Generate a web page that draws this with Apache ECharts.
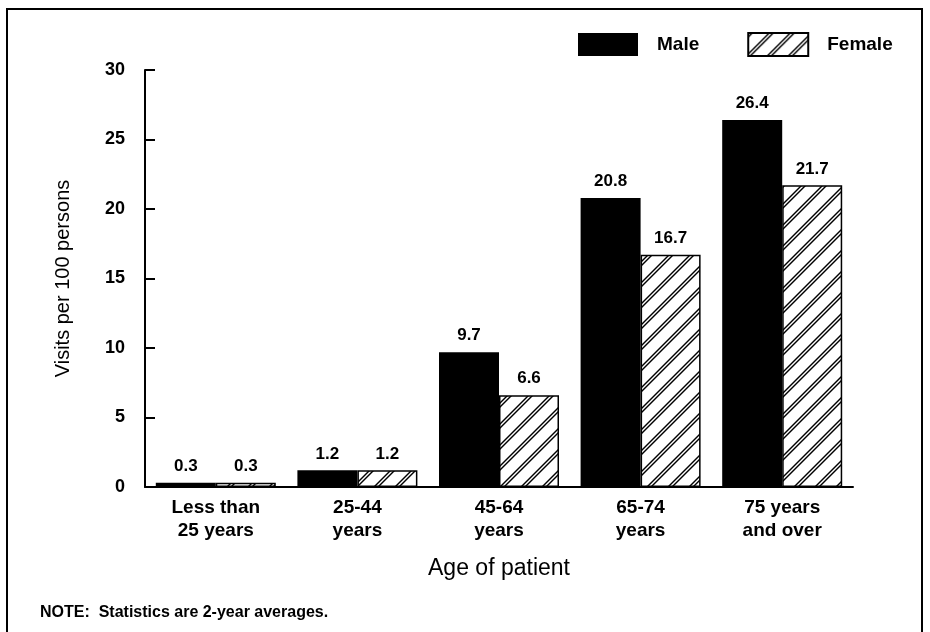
<!DOCTYPE html>
<html>
<head>
<meta charset="utf-8">
<script src="https://cdn.jsdelivr.net/npm/echarts@6/dist/echarts.min.js"></script>
<style>
  html, body { margin: 0; padding: 0; background: #fff; }
  #main { width: 930px; height: 632px; }
</style>
</head>
<body>
<div id="main"></div>
<script>
// data
var ageGroups = ['Less than\n25 years', '25-44\nyears', '45-64\nyears', '65-74\nyears', '75 years\nand over'];
var maleVisits = [0.3, 1.2, 9.7, 20.8, 26.4];
var femaleVisits = [0.3, 1.2, 6.6, 16.7, 21.7];
var yTicks = [0, 5, 10, 15, 20, 25, 30];

var FONT = '"Liberation Sans", Arial, sans-serif';

// double diagonal hatch, like the old print
function makeHatch() {
  var size = 21;
  var c = document.createElement('canvas');
  c.width = size; c.height = size;
  var ctx = c.getContext('2d');
  ctx.fillStyle = '#fff';
  ctx.fillRect(0, 0, size, size);
  ctx.strokeStyle = '#000';
  ctx.lineWidth = 1.4;
  [0, 4, 21, 25, 42, 46].forEach(function (k) {
    ctx.beginPath();
    ctx.moveTo(k - 30, 30);
    ctx.lineTo(k + 30, -30);
    ctx.stroke();
  });
  return c;
}

var chart = echarts.init(document.getElementById('main'));

var valueLabel = {
  show: true,
  position: 'top',
  distance: 8,
  color: '#000',
  fontFamily: FONT,
  fontWeight: 'bold',
  fontSize: 17,
  formatter: function (p) { return p.value.toFixed(1); }
};

chart.setOption({
  animation: false,
  backgroundColor: '#fff',
  textStyle: { fontFamily: FONT, color: '#000' },
  grid: { left: 145, right: 77, top: 70, bottom: 145 },
  legend: {
    data: ['Male', 'Female'],
    icon: 'rect',
    left: 573,
    top: 27,
    itemWidth: 60,
    itemHeight: 23,
    itemGap: 48,
    textStyle: { color: '#000', fontFamily: FONT, fontWeight: 'bold', fontSize: 19, padding: [0, 0, 0, 14] }
  },
  xAxis: {
    type: 'category',
    data: ageGroups,
    name: 'Age of patient',
    nameLocation: 'middle',
    nameGap: 70,
    nameTextStyle: { color: '#000', fontFamily: FONT, fontSize: 23 },
    axisLine: { lineStyle: { color: '#000', width: 2 } },
    axisTick: { show: false },
    axisLabel: {
      color: '#000', fontFamily: FONT, fontWeight: 'bold', fontSize: 19,
      lineHeight: 23, margin: 9, interval: 0
    }
  },
  yAxis: {
    type: 'value',
    min: yTicks[0],
    max: yTicks[yTicks.length - 1],
    interval: 5,
    name: 'Visits per 100 persons',
    nameLocation: 'middle',
    nameRotate: 90,
    nameGap: 72,
    nameTextStyle: { color: '#000', fontFamily: FONT, fontSize: 20 },
    axisLine: { show: true, lineStyle: { color: '#000', width: 2 } },
    axisTick: { show: true, inside: true, length: 10, lineStyle: { color: '#000', width: 2 } },
    splitLine: { show: false },
    axisLabel: { color: '#000', fontFamily: FONT, fontWeight: 'bold', fontSize: 18, margin: 20 }
  },
  series: [
    {
      name: 'Male',
      type: 'bar',
      data: maleVisits,
      barWidth: 60,
      barGap: '0%',
      itemStyle: { color: '#000' },
      label: valueLabel
    },
    {
      name: 'Female',
      type: 'bar',
      data: femaleVisits,
      barWidth: 60,
      itemStyle: {
        color: { image: makeHatch(), repeat: 'repeat' },
        borderColor: '#000',
        borderWidth: 1.5
      },
      label: valueLabel
    }
  ],
  graphic: [
    {
      type: 'rect',
      shape: { x: 7, y: 9, width: 915, height: 640 },
      style: { fill: 'none', stroke: '#000', lineWidth: 2 },
      silent: true
    },
    {
      type: 'text',
      left: 40,
      top: 605,
      style: { text: 'NOTE:  Statistics are 2-year averages.', fill: '#000', font: 'bold 16px ' + FONT }
    }
  ]
});
</script>
</body>
</html>
